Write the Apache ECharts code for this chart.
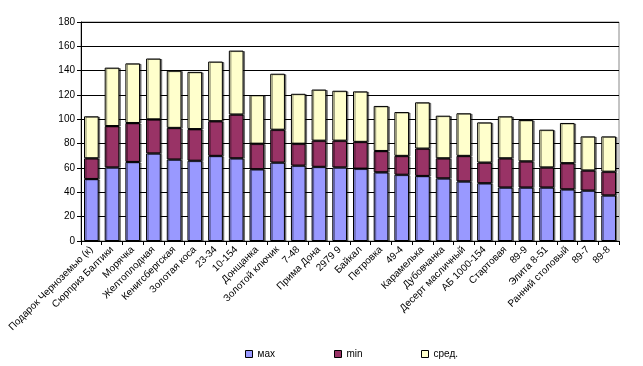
<!DOCTYPE html>
<html><head><meta charset="utf-8">
<script src="https://cdn.jsdelivr.net/npm/echarts@6/dist/echarts.min.js"></script>
<style>html,body{margin:0;padding:0;background:#fff}#c{width:643px;height:366px}</style>
</head><body><div id="c"></div>
<script>
var categories = ["Подарок Черноземью (к)","Сюрприз Балтики","Морячка","Желтоплодная","Кенигсбергская","Золотая коса","23-34","10-154","Донщанка","Золотой ключик","7-48","Прима Дона","2979 9","Байкал","Петровка","49-4","Карамелька","Дубовчанка","Десерт масличный","АБ 1000-154","Стартовая","89-9","Элита 8-51","Ранний столовый","89-7","89-8"];
var maxValues = [51,60.5,65,72,67,66,70,68,59,64.5,62,61,60.5,59.5,56.5,54.5,53.5,51.5,49,47.5,44,44,44,42.5,41.5,37.5];
var minValues = [17,34,32,28,26,26,28.5,36,21,27,18,21.5,22,22,17.5,15.5,22.5,16.5,21,17,24,21.5,16.5,21.5,16.5,19.5];
var avgValues = [34.5,48,49,50,47,47,49,52.5,40,46,41,42,41,41.5,37,36,38,35,35,33,34.5,34,31,33,28,29];
var yTicks = [0,20,40,60,80,100,120,140,160,180];
var seriesNames = ["мах","min","сред."];

var chart = echarts.init(document.getElementById('c'));
var font = 'Liberation Sans, Arial, sans-serif';
var colors = ['#9999FF','#993366','#FFFFCC'];
var vals = [maxValues, minValues, avgValues];
var series = seriesNames.map(function(n,i){
  return {
    name: n, type: 'bar', stack: 's', data: vals[i], barWidth: '71%',
    itemStyle: {color: colors[i], borderColor: '#000', borderWidth: 1,
      shadowColor: 'rgba(0,0,0,0.45)', shadowOffsetX: 1.5, shadowOffsetY: 0.5, shadowBlur: 0},
    emphasis: {disabled: true}
  };
});
function lg(name, left){
  return {data:[name], left: left, top: 344, itemWidth: 7, itemHeight: 7, itemGap: 4,
    textStyle:{fontFamily: font, fontSize: 10, color:'#000'},
    icon: 'rect', itemStyle: {borderColor:'#000', borderWidth: 1}};
}
chart.setOption({
  animation: false,
  backgroundColor: '#fff',
  grid: {left: 81, right: 24, top: 22, bottom: 125, show: true, borderColor: '#888', borderWidth: 1},
  legend: [lg(seriesNames[0], 240), lg(seriesNames[1], 329), lg(seriesNames[2], 416)],
  xAxis: {
    type: 'category', data: categories,
    axisLine: {lineStyle: {color: '#000'}},
    axisTick: {show: true, interval: 0, length: 4, lineStyle: {color: '#000'}},
    axisLabel: {interval: 0, rotate: 45, margin: 7, fontFamily: font, fontSize: 10, color: '#000'}
  },
  yAxis: {
    type: 'value', min: yTicks[0], max: yTicks[yTicks.length-1], interval: yTicks[1]-yTicks[0],
    axisLine: {show: true, lineStyle: {color: '#000'}},
    axisTick: {show: true, length: 4, lineStyle: {color: '#000'}},
    axisLabel: {fontFamily: font, fontSize: 10, color: '#000', margin: 6},
    splitLine: {show: true, lineStyle: {color: '#000', width: 1}}
  },
  series: series
});
</script></body></html>
